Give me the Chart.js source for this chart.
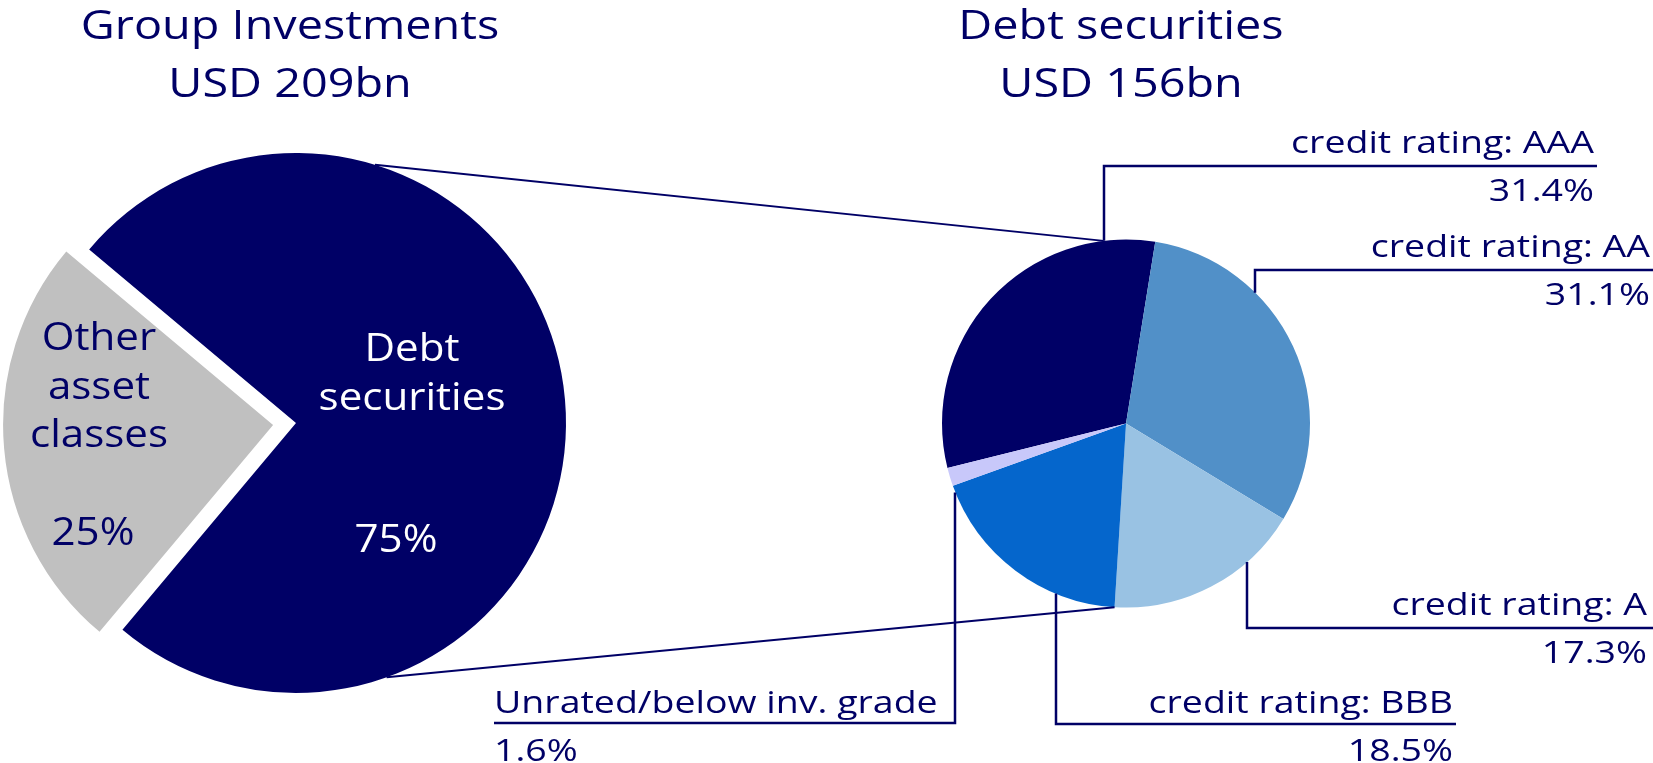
<!DOCTYPE html>
<html lang="en">
<head>
<meta charset="UTF-8">
<title>Group Investments - Debt securities</title>
<script src="https://cdn.jsdelivr.net/npm/chart.js"></script>
<style>
  html, body { margin: 0; padding: 0; background: #fff; }
  #wrap { position: relative; width: 1653px; height: 763px; overflow: hidden; }
  #wrap canvas, #wrap svg { position: absolute; left: 0; top: 0; }
  svg text { font-family: 'Open Sans', sans-serif; fill: #000066; }
</style>
</head>
<body>
<div id="wrap">
  <canvas id="groupChart" width="1653" height="763"></canvas>
  <canvas id="debtChart" width="1653" height="763"></canvas>
  <svg id="labels" width="1653" height="763"></svg>
</div>

<script>
// Group investments split
const groupLabels = ['Debt securities', 'Other asset classes'];
const groupShare = [75, 25];

// Debt securities by credit rating
const ratingLabels = ['credit rating: AAA', 'credit rating: AA', 'credit rating: A', 'credit rating: BBB', 'Unrated/below inv. grade'];
const ratingShare = [31.4, 31.1, 17.3, 18.5, 1.6];

const groupTitle = ['Group Investments', 'USD 209bn'];
const debtTitle = ['Debt securities', 'USD 156bn'];

const NAVY = '#000066';
const groupColors = [NAVY, '#c0c0c0'];
const ratingColors = [NAVY, '#5190c8', '#99c2e3', '#0566cc', '#c8c8fa'];

// leader line layout for the rating labels: anchor angle on the pie (deg), elbow y, end x
const leaderAngle = [-97, -45.3, 48.8, 112.4, 158];
const leaderElbowY = [166, 270, 628, 724, 723];
const leaderEndX = [1597, 1653, 1653, 1456, 494];
// where the two connecting lines leave the big pie (deg)
const joinAngle = [-73, 70.4];

Chart.defaults.font.family = "'Open Sans', sans-serif";

const groupChart = new Chart(document.getElementById('groupChart'), {
  type: 'pie',
  data: {
    labels: groupLabels,
    datasets: [{
      data: groupShare,
      backgroundColor: groupColors,
      borderWidth: 0,
      offset: [0, 92]
    }]
  },
  options: {
    responsive: false,
    animation: false,
    events: [],
    rotation: -50,
    radius: 270,
    layout: { padding: { left: 0, right: 1061, top: 83, bottom: 0 } },
    plugins: { legend: { display: false }, tooltip: { enabled: false } }
  }
});

const rad = d => d * Math.PI / 180;
const onCircle = (arc, ang) => [arc.x + arc.outerRadius * Math.cos(ang), arc.y + arc.outerRadius * Math.sin(ang)];

const leaderLines = {
  id: 'leaderLines',
  afterDatasetsDraw(chart) {
    const ctx = chart.ctx;
    const arcs = chart.getDatasetMeta(0).data;
    const big = groupChart.getDatasetMeta(0).data[0];
    ctx.save();
    ctx.strokeStyle = NAVY;
    ctx.lineCap = 'butt';

    // lines joining the two pies
    ctx.lineWidth = 2;
    const topA = onCircle(big, rad(joinAngle[0]));
    const topB = onCircle(arcs[0], rad(leaderAngle[0]));
    const botA = onCircle(big, rad(joinAngle[1]));
    const botB = onCircle(arcs[0], arcs[3].startAngle);
    ctx.beginPath();
    ctx.moveTo(topA[0], topA[1]); ctx.lineTo(topB[0], topB[1]);
    ctx.moveTo(botA[0], botA[1]); ctx.lineTo(botB[0], botB[1]);
    ctx.stroke();

    // elbow leaders to each rating label
    ctx.lineWidth = 2.5;
    arcs.forEach((arc, i) => {
      const p = onCircle(arc, rad(leaderAngle[i]));
      const x = Math.round(p[0]);
      ctx.beginPath();
      ctx.moveTo(x, p[1]);
      ctx.lineTo(x, leaderElbowY[i]);
      ctx.lineTo(leaderEndX[i], leaderElbowY[i]);
      ctx.stroke();
    });
    ctx.restore();
  }
};

const debtChart = new Chart(document.getElementById('debtChart'), {
  type: 'pie',
  data: {
    labels: ratingLabels,
    datasets: [{
      data: ratingShare,
      backgroundColor: ratingColors,
      borderWidth: 0
    }]
  },
  options: {
    responsive: false,
    animation: false,
    events: [],
    rotation: -104,
    radius: 184,
    layout: { padding: { left: 599, right: 0, top: 84, bottom: 0 } },
    plugins: { legend: { display: false }, tooltip: { enabled: false } }
  },
  plugins: [leaderLines]
});

// text layer
const svg = document.getElementById('labels');
function addText(str, x, y, size, sx, anchor, fill) {
  const t = document.createElementNS('http://www.w3.org/2000/svg', 'text');
  t.setAttribute('transform', `translate(${x},${y}) scale(${sx},1)`);
  t.setAttribute('text-anchor', anchor);
  t.setAttribute('font-size', size);
  if (fill) t.style.fill = fill;
  t.textContent = str;
  svg.appendChild(t);
}

// titles
addText(groupTitle[0], 290, 39, 40, 1.17, 'middle');
addText(groupTitle[1], 290, 97, 40, 1.17, 'middle');
addText(debtTitle[0], 1121, 39, 40, 1.17, 'middle');
addText(debtTitle[1], 1121, 97, 40, 1.17, 'middle');

// labels inside the big pie
const debtWords = groupLabels[0].split(' ');
addText(debtWords[0], 412, 361, 39, 1.08, 'middle', '#fff');
addText(debtWords[1], 412, 410, 39, 1.08, 'middle', '#fff');
addText(groupShare[0] + '%', 396, 552, 39, 1.08, 'middle', '#fff');
groupLabels[1].split(' ').forEach((w, i) => addText(w, 99, 350 + i * 48.5, 39, 1.08, 'middle'));
addText(groupShare[1] + '%', 93, 545, 39, 1.08, 'middle');

// rating labels
const labelPos = [
  { x: 1594, y: 153, anchor: 'end' },
  { x: 1650, y: 257, anchor: 'end' },
  { x: 1647, y: 615, anchor: 'end' },
  { x: 1453, y: 713, anchor: 'end' },
  { x: 494, y: 713, anchor: 'start' }
];
ratingLabels.forEach((lab, i) => {
  const p = labelPos[i];
  addText(lab, p.x, p.y, 31, 1.21, p.anchor);
  addText(ratingShare[i].toFixed(1) + '%', p.x, p.y + 48, 31, 1.21, p.anchor);
});
</script>
</body>
</html>
